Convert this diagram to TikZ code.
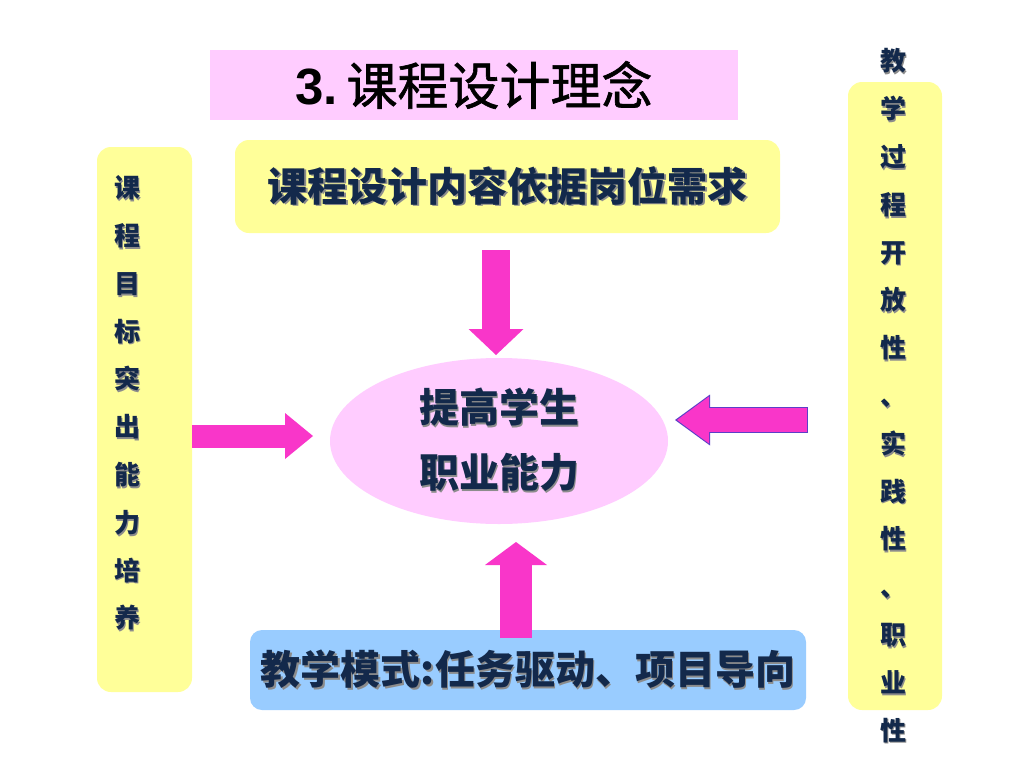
\documentclass[tikz,border=0pt]{standalone}
\usepackage{fontspec}
\setmainfont{Liberation Sans}
\newfontfamily\cjk{Noto Sans CJK SC}
\newfontfamily\cjkt{Noto Sans CJK SC}[FakeBold=1.2]
\usetikzlibrary{shapes.geometric,arrows.meta}
\definecolor{titlepink}{HTML}{FFCCFF}
\definecolor{boxyellow}{HTML}{FFFF99}
\definecolor{boxblue}{HTML}{99CCFF}
\definecolor{arrowpink}{HTML}{F936C9}
\definecolor{navytext}{HTML}{13294B}
\definecolor{shgray}{HTML}{8C8C8C}
\definecolor{outlineblue}{HTML}{5B3FC8}
\newcommand\shd[1]{\rlap{\kern1.8pt\raisebox{-1.8pt}{\textcolor{shgray}{#1}}}\textcolor{navytext}{#1}}
\begin{document}
\begin{tikzpicture}[x=1pt,y=-1pt,
  ybox/.style={fill=boxyellow, rounded corners=14pt, inner sep=0pt},
  bbox/.style={fill=boxblue, rounded corners=12pt, inner sep=0pt},
  bigtext/.style={font=\cjk\bfseries\fontsize{40}{48}\selectfont},
  vtext/.style={font=\cjk\bfseries\fontsize{26}{47.8}\selectfont, align=center, inner sep=0pt},
  blockarrow/.style={draw=arrowpink}
]
\path[use as bounding box, fill=white] (0,0) rectangle (1024,768);

% title
\node[fill=titlepink, minimum width=528pt, minimum height=70pt, inner sep=0pt,
      font=\fontsize{51}{58}\selectfont] (title) at (474,85)
  {{\bfseries 3.}\,{\cjkt 课程设计理念}};

% boxes
\node[ybox, minimum width=545pt, minimum height=93pt, bigtext] (top) at (507.5,186.5)
  {\shd{课程设计内容依据岗位需求}};
\node[ybox, minimum width=95pt, minimum height=545pt] (lft) at (144.5,419.5) {};
\node[ybox, minimum width=94pt, minimum height=628pt] (rgt) at (895,396) {};
\node[bbox, minimum width=556pt, minimum height=80pt, bigtext] (bot) at (528,670)
  {\shd{教学模式:任务驱动、项目导向}};

% vertical texts
\node[vtext] (ltxt) at (127,404)
  {\shd{课}\\\shd{程}\\\shd{目}\\\shd{标}\\\shd{突}\\\shd{出}\\\shd{能}\\\shd{力}\\\shd{培}\\\shd{养}};
\node[vtext] (rtxt) at (893,396.5)
  {\shd{教}\\\shd{学}\\\shd{过}\\\shd{程}\\\shd{开}\\\shd{放}\\\shd{性}\\\shd{、}\\\shd{实}\\\shd{践}\\\shd{性}\\\shd{、}\\\shd{职}\\\shd{业}\\\shd{性}};

% ellipse
\node[ellipse, fill=titlepink, minimum width=338pt, minimum height=166pt, inner sep=0pt,
      align=center, font=\cjk\bfseries\fontsize{40}{65}\selectfont] (ell) at (499,441)
  {\shd{提高学生}\\\shd{职业能力}};

% arrow end points
\coordinate (dA) at (496,250);
\coordinate (dB) at (496,355);
\coordinate (lA) at (193,436);
\coordinate (lB) at (313,436);
\coordinate (rA) at (807,420);
\coordinate (rB) at (677,420);
\coordinate (rAo) at (808,420);
\coordinate (rBo) at (675,420);
\coordinate (uA) at (516,638);
\coordinate (uB) at (516,542);

% down arrow: top -> ellipse
\draw[blockarrow, line width=28pt, -{Triangle[width=55pt,length=26pt,line width=0pt]}]
  (top.south |- dA) ++(-11.5,0) coordinate (dS) (dS) -- (dS |- dB);
% right-pointing arrow: left box -> ellipse
\draw[blockarrow, line width=23pt, -{Triangle[width=46pt,length=28pt,line width=0pt]}]
  (lft.east |- lA) -- (lB);
% left-pointing arrow (outlined): right -> ellipse
\draw[draw=outlineblue, line width=26pt, -{Triangle[width=51pt,length=35pt,line width=0pt]}]
  (rAo) -- (rBo);
\draw[blockarrow, line width=24pt, -{Triangle[width=47pt,length=32pt,line width=0pt]}]
  (rA) -- (rB);
% up arrow: bottom box -> ellipse
\draw[blockarrow, line width=32pt, -{Triangle[width=62pt,length=23pt,line width=0pt]}]
  (uA) -- (uB);
\end{tikzpicture}
\end{document}
